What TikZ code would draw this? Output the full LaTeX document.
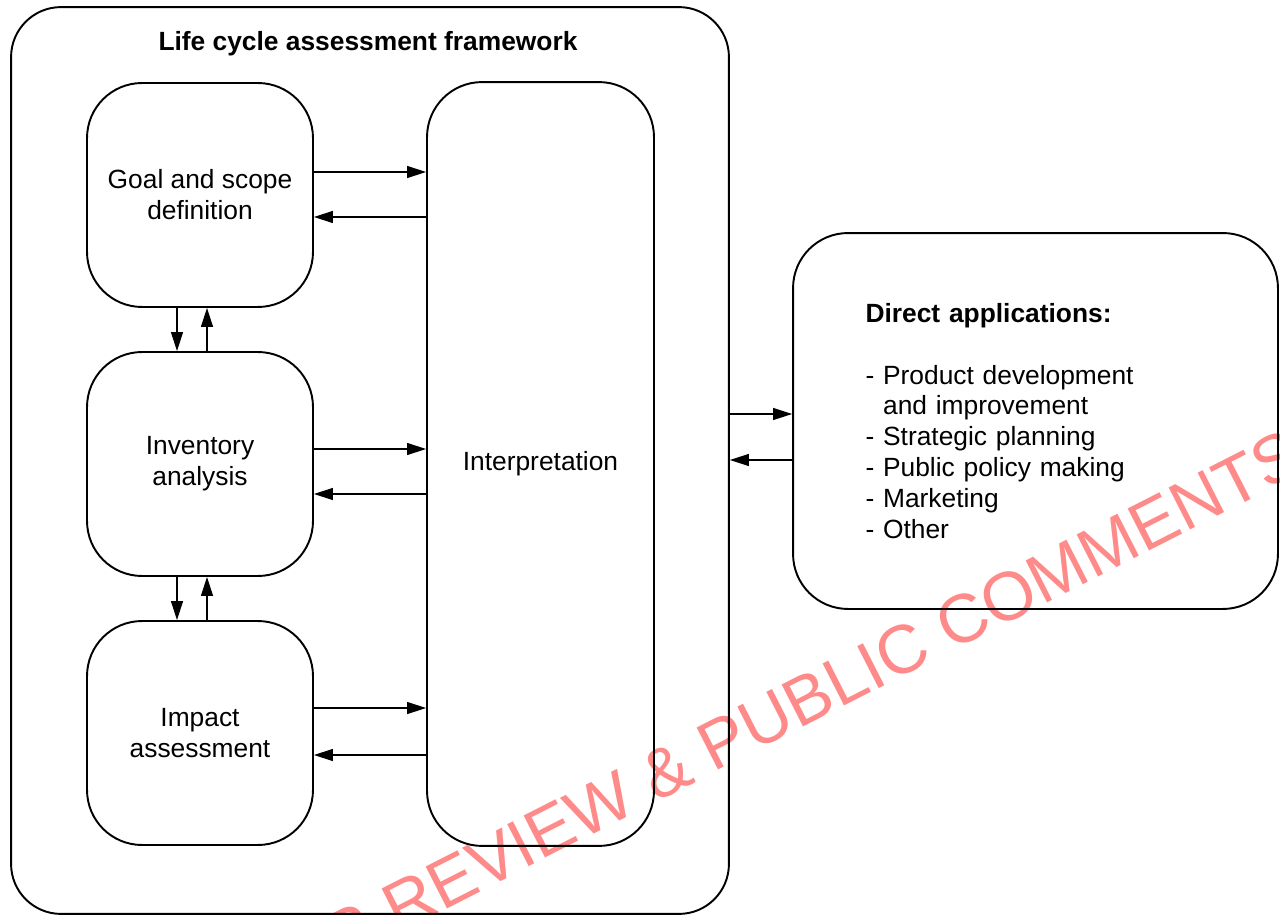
\documentclass[tikz,border=0pt]{standalone}
\usepackage{fontspec}
\setmainfont{Liberation Sans}
\usetikzlibrary{arrows.meta,positioning}
\definecolor{stampred}{RGB}{255,138,138}

\begin{document}
\begin{tikzpicture}
		[x=0.02cm, y=-0.02cm,
		font=\fontsize{15pt}{17.6pt}\selectfont,
		frame/.style ={rectangle, draw=black, line width=1.1pt, rounded corners=1cm, minimum width=14.36cm, minimum height=18.14cm},
		block/.style ={rectangle, draw=black, line width=1.1pt, rounded corners=1.1cm, align=center, minimum width=4.52cm, minimum height=4.48cm},
		line/.style ={draw, line width=0.6pt, -{Triangle[length=3.8mm,width=2.4mm]}},
		stamp/.style ={text=stampred, rotate=27, anchor=base, font=\fontsize{39pt}{39pt}\selectfont}]
		\clip (0,0) rectangle (1280,915);

		% watermark, under the drawing
		\node[stamp] (mark) at (780,739) {FOR REVIEW \& PUBLIC COMMENTS};

		% framework and its stages
		\node[frame] (lca) at (370,460.5) {};
		\node[font=\fontsize{15pt}{17.6pt}\selectfont\bfseries] (title) at (368,44) {Life cycle assessment framework};
		\node[block] (goal) at (200,195) {Goal and scope\\definition};
		\node[block] (inv) at (200,464) {Inventory\\analysis};
		\node[block] (impact) at (200,733) {Impact\\assessment};
		\node[block, minimum width=4.54cm, minimum height=15.28cm] (interp) at (540.5,464) {Interpretation};

		% applications
		\node[block, align=left, text width=6.8cm, inner xsep=1.44cm, minimum width=9.7cm, minimum height=7.52cm] (apps) at (1035.5,421)
		{\textbf{Direct applications:}\\[17.6pt]
		- Product development\\
		\phantom{- }and improvement\\
		- Strategic planning\\
		- Public policy making\\
		- Marketing\\
		- Other};

		% stages <-> interpretation
		\coordinate (g1) at ([yshift=4.6mm]goal.east);
		\coordinate (g2) at ([yshift=-4.4mm]goal.east);
		\coordinate (i1) at ([yshift=3mm]inv.east);
		\coordinate (i2) at ([yshift=-6mm]inv.east);
		\coordinate (m1) at ([yshift=5mm]impact.east);
		\coordinate (m2) at ([yshift=-4.4mm]impact.east);
		\path[line] (g1) -- (g1 -| interp.west);
		\path[line] (g2 -| interp.west) -- (g2);
		\path[line] (i1) -- (i1 -| interp.west);
		\path[line] (i2 -| interp.west) -- (i2);
		\path[line] (m1) -- (m1 -| interp.west);
		\path[line] (m2 -| interp.west) -- (m2);

		% stage to stage
		\path[line] ([xshift=-4.6mm]goal.south) -- ([xshift=-4.6mm]inv.north);
		\path[line] ([xshift=1.4mm]inv.north) -- ([xshift=1.4mm]goal.south);
		\path[line] ([xshift=-4.6mm]inv.south) -- ([xshift=-4.6mm]impact.north);
		\path[line] ([xshift=1.4mm]impact.north) -- ([xshift=1.4mm]inv.south);

		% framework <-> applications
		\coordinate (a1) at ([yshift=1.4mm]apps.west);
		\coordinate (a2) at ([yshift=-7.8mm]apps.west);
		\path[line] (a1 -| lca.east) -- (a1);
		\path[line] (a2) -- (a2 -| lca.east);

	\end{tikzpicture}
\end{document}
